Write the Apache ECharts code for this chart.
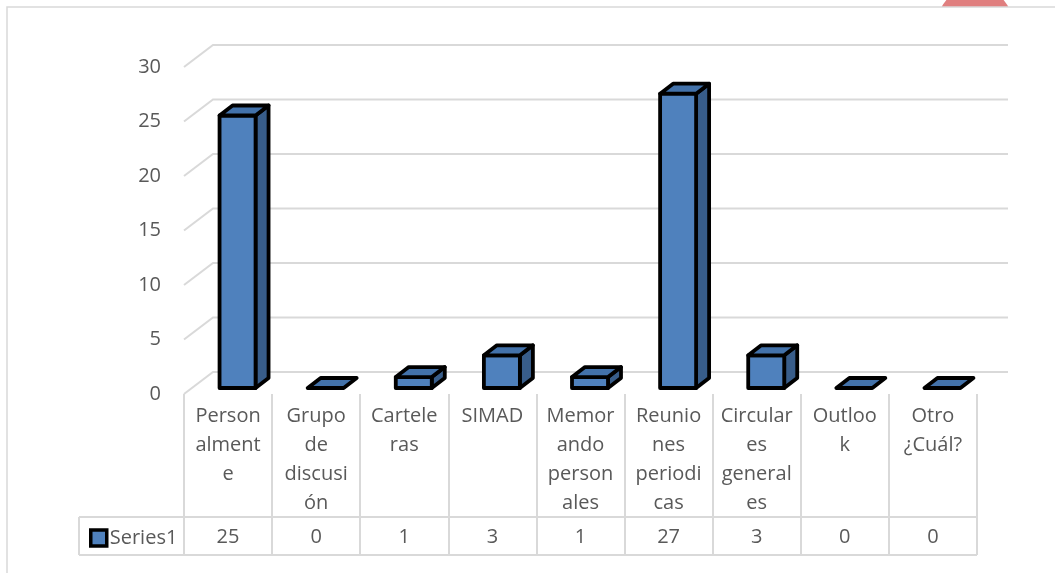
<!DOCTYPE html>
<html>
<head>
<meta charset="utf-8">
<script src="https://cdn.jsdelivr.net/npm/echarts@6/dist/echarts.min.js"></script>
<style>
html,body{margin:0;padding:0;background:#fff;}
#chart{width:1055px;height:573px;}
</style>
</head>
<body>
<div id="chart"></div>
<script>
const categories = ['Personalmente','Grupo de discusión','Carteleras','SIMAD','Memorando personales','Reuniones periodicas','Circulares generales','Outlook','Otro ¿Cuál?'];
const wrappedLabels = [['Person','alment','e'],['Grupo','de','discusi','ón'],['Cartele','ras'],['SIMAD'],['Memor','ando','person','ales'],['Reunio','nes','periodi','cas'],['Circular','es','general','es'],['Outloo','k'],['Otro','¿Cuál?']];
const values = [25, 0, 1, 3, 1, 27, 3, 0, 0];
const yTicks = [0, 5, 10, 15, 20, 25, 30];
const seriesName = 'Series1';

const FONT = '"Open Sans", sans-serif';
const TXT = '#595959';
const GRID = '#d9d9d9';
// 3D offsets (pixels)
const WALL_DX = 29, WALL_DY = -22;
const BAR_DX = 9, BAR_DY = -6;
const BAR_W = 36;
const BAR_DEPTH_DX = 13, BAR_DEPTH_DY = -10;

const chart = echarts.init(document.getElementById('chart'), null, {renderer: 'canvas'});

function gridRender(params, api) {
  const v = api.value(0);
  const band = api.size([1, 0])[0];
  const p0 = api.coord([0, v]);
  const pN = api.coord([categories.length - 1, v]);
  const xl = p0[0] - band / 2;
  const xr = pN[0] + band / 2 + WALL_DX + 2;
  const y = p0[1];
  return {
    type: 'polyline',
    shape: {points: [[xl, y], [xl + WALL_DX, y + WALL_DY], [xr, y + WALL_DY]]},
    style: {stroke: GRID, lineWidth: 2, fill: null}
  };
}

function barRender(params, api) {
  const i = api.value(0);
  const v = api.value(1);
  const base = api.coord([i, 0]);
  const top = api.coord([i, v]);
  const x0 = base[0] - BAR_W / 4 + BAR_DX - 9 + 0.5;
  const x1 = x0 + BAR_W;
  const yb = base[1] + BAR_DY;
  const yt = top[1] + BAR_DY;
  const dx = BAR_DEPTH_DX, dy = BAR_DEPTH_DY;
  const stroke = {stroke: '#000', lineWidth: 3.8, lineJoin: 'round'};
  const children = [];
  if (yb - yt > 0.5) {
    children.push({type: 'polygon', shape: {points: [[x1, yb], [x1, yt], [x1 + dx, yt + dy], [x1 + dx, yb + dy]]},
      style: Object.assign({fill: '#385D8A'}, stroke)});
    children.push({type: 'rect', shape: {x: x0, y: yt, width: BAR_W, height: yb - yt},
      style: Object.assign({fill: '#4F81BD'}, stroke)});
  }
  children.push({type: 'polygon', shape: {points: [[x0, yt], [x1, yt], [x1 + dx, yt + dy], [x0 + dx, yt + dy]]},
    style: Object.assign({fill: '#4372AA'}, stroke)});
  return {type: 'group', children: children};
}

const option = {
  animation: false,
  textStyle: {fontFamily: FONT},
  graphic: [
    {type: 'circle', z: -3, shape: {cx: 975, cy: 25, r: 38}, style: {fill: '#E07F7F'}},
    {type: 'rect', z: -2, shape: {x: 7, y: 7, width: 1200, height: 700}, style: {fill: '#fff', stroke: GRID, lineWidth: 1.5}},
    {type: 'line', z: 10, shape: {x1: 79, y1: 517, x2: 977, y2: 517}, style: {stroke: GRID, lineWidth: 2}},
    {type: 'line', z: 10, shape: {x1: 79, y1: 555, x2: 977, y2: 555}, style: {stroke: GRID, lineWidth: 2}},
    {type: 'line', z: 10, shape: {x1: 79, y1: 517, x2: 79, y2: 555}, style: {stroke: GRID, lineWidth: 2}}
  ],
  legend: {
    left: 84, top: 523, itemWidth: 16, itemHeight: 16, itemGap: 0,
    textStyle: {fontFamily: FONT, fontSize: 20, color: TXT, padding: [0, 0, 0, -2]},
    data: [{name: seriesName, icon: 'rect', itemStyle: {color: '#4F81BD', borderColor: '#000', borderWidth: 3.5}}]
  },
  grid: {left: 184, right: 78, top: 67, bottom: 179, containLabel: false},
  xAxis: [
    {
      type: 'category', data: categories, position: 'bottom',
      axisLine: {show: false},
      axisTick: {show: true, length: 161, lineStyle: {color: GRID, width: 2}},
      axisLabel: {
        interval: 0, margin: 8, fontFamily: FONT, fontSize: 20, lineHeight: 29, color: TXT, align: 'center',
        formatter: function (v, idx) { return wrappedLabels[idx].join('\n'); }
      },
      splitLine: {show: false}
    },
    {
      type: 'category', data: categories, position: 'bottom', gridIndex: 0,
      axisLine: {show: false}, axisTick: {show: false}, splitLine: {show: false},
      axisLabel: {
        interval: 0, margin: 143, verticalAlign: 'middle', fontFamily: FONT, fontSize: 20, color: TXT,
        formatter: function (v, idx) { return String(values[idx]); }
      }
    }
  ],
  yAxis: {
    type: 'value', min: 0, max: 30, interval: 5,
    axisLine: {show: false}, axisTick: {show: false}, splitLine: {show: false},
    axisLabel: {margin: 23, fontFamily: FONT, fontSize: 20, color: TXT}
  },
  series: [
    {
      type: 'custom', name: 'grid3d', z: 1, silent: true,
      xAxisIndex: 0, yAxisIndex: 0,
      encode: {y: 0},
      renderItem: gridRender,
      data: yTicks.map(function (t) { return [t]; })
    },
    {
      type: 'custom', name: seriesName, z: 3,
      xAxisIndex: 0, yAxisIndex: 0,
      itemStyle: {color: '#4F81BD'},
      encode: {x: 0, y: 1},
      renderItem: barRender,
      data: values.map(function (v, i) { return [i, v]; })
    }
  ]
};
chart.setOption(option);
</script>
</body>
</html>
